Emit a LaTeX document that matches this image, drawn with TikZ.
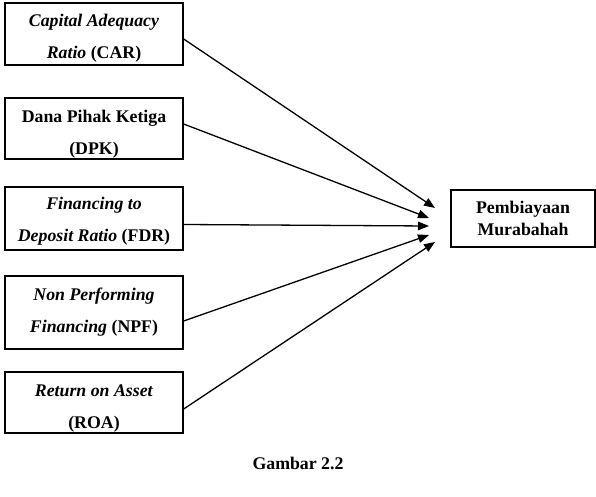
\documentclass[tikz,border=0pt]{standalone}
\usepackage{fontspec}
\setmainfont{Liberation Serif}
\usetikzlibrary{arrows.meta}

\begin{document}
\begin{tikzpicture}[x=1pt, y=-1pt, line width=1.3pt,
    kotak/.style={draw, rectangle, align=center, inner sep=0pt,
      font=\bfseries\fontsize{17.8}{32}\selectfont, minimum width=178pt},
    turun/.style={execute at begin node={\rule{0pt}{#1}}},
    panah/.style={-{Triangle[length=11pt, width=8.5pt]}}]
                \useasboundingbox (0,0) rectangle (596,497);

                \node[kotak, turun=53.5pt, minimum height=62pt] (car) at (94,34) {\textit{Capital Adequacy}\\\textit{Ratio} (CAR)};
                \node[kotak, turun=56.5pt, minimum height=61pt] (dpk) at (94,128.5) {Dana Pihak Ketiga\\(DPK)};
                \node[kotak, turun=50.5pt, minimum height=63pt] (fdr) at (94,218.5) {\textit{Financing to}\\\textit{Deposit Ratio} (FDR)};
                \node[kotak, minimum height=73pt] (npf) at (94,312.5) {\textit{Non Performing}\\\textit{Financing} (NPF)};
                \node[kotak, turun=55.5pt, minimum height=61pt] (roa) at (94,402.5) {\textit{Return on Asset}\\(ROA)};

                \node[kotak, minimum width=144pt, minimum height=57pt,
                  font=\bfseries\fontsize{17.8}{22}\selectfont] (pm) at (523,218.5) {Pembiayaan\\Murabahah};

                % ujung panah
                \coordinate (t1) at (435,208);
                \coordinate (t2) at (429,218);
                \coordinate (t3) at (429,226);
                \coordinate (t4) at (429,235);
                \coordinate (t5) at (435,242);

                \draw[panah] ([yshift=-5pt]car.east) -- (t1);
                \draw[panah] ([yshift=4.5pt]dpk.east) -- (t2);
                \draw[panah] ([yshift=-6pt]fdr.east) -- (t3);
                \draw[panah] ([yshift=-8.5pt]npf.east) -- (t4);
                \draw[panah] ([yshift=-6.5pt]roa.east) -- (t5);

                \node[font=\bfseries\fontsize{17.8}{22}\selectfont] (judul) at (298,463) {Gambar 2.2};
\end{tikzpicture}
\end{document}
